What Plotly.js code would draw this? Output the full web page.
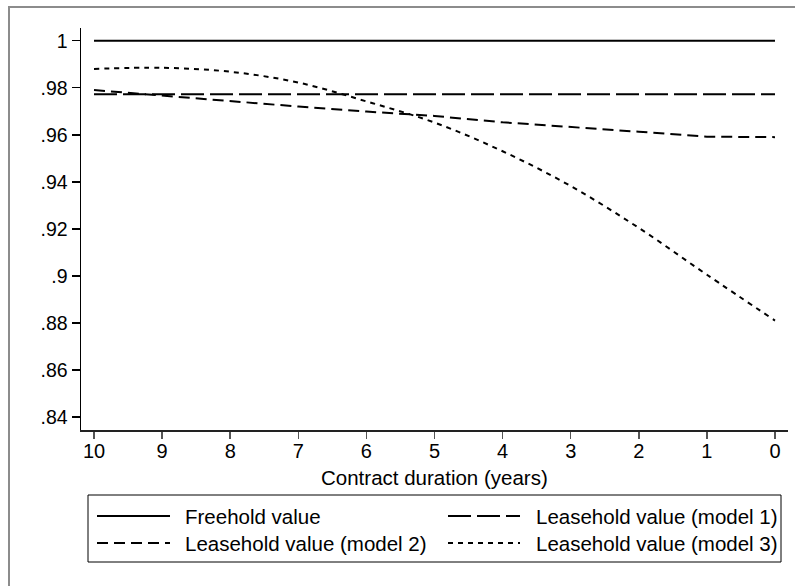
<!DOCTYPE html>
<html>
<head>
<meta charset="utf-8">
<script src="https://cdn.plot.ly/plotly-3.0.1.min.js"></script>
<style>
  html, body { margin: 0; padding: 0; background: #ffffff; }
  #chart { width: 795px; height: 586px; }
</style>
</head>
<body>
<div id="chart"></div>
<script>
// ---- data ----
var years = [10, 9, 8, 7, 6, 5, 4, 3, 2, 1, 0];
var freehold = [1, 1, 1, 1, 1, 1, 1, 1, 1, 1, 1];
var leaseModel1 = [0.9772, 0.9772, 0.9772, 0.9772, 0.9772, 0.9772, 0.9772, 0.9772, 0.9772, 0.9772, 0.9772];
var leaseModel2 = [0.9790, 0.9766, 0.9741, 0.9720, 0.9699, 0.9680, 0.9653, 0.9634, 0.9613, 0.9592, 0.9590];
var leaseModel3 = [0.9880, 0.9885, 0.9868, 0.9822, 0.9742, 0.9652, 0.9530, 0.9382, 0.9204, 0.9005, 0.8810];

var seriesNames = ["Freehold value", "Leasehold value (model 1)", "Leasehold value (model 2)", "Leasehold value (model 3)"];
var yTickVals = [0.84, 0.86, 0.88, 0.90, 0.92, 0.94, 0.96, 0.98, 1.00];
var yTickText = [".84", ".86", ".88", ".9", ".92", ".94", ".96", ".98", "1"];
var xTickVals = [10, 9, 8, 7, 6, 5, 4, 3, 2, 1, 0];
var xTitle = "Contract duration (years)";

// ---- styles ----
var FONT = "Liberation Sans, Arial, Helvetica, sans-serif";
var dashes = ["solid", "23px,6px", "11px,6px", "5px,5px"];
var W = 795, H = 586;
var M = {l: 81, r: 7, t: 28, b: 156};
var pw = W - M.l - M.r, ph = H - M.t - M.b;
function px(X) { return (X - M.l) / pw; }
function py(Y) { return (H - M.b - Y) / ph; }

var ys = [freehold, leaseModel1, leaseModel2, leaseModel3];
var traces = ys.map(function (y, i) {
  return {
    x: years, y: y, type: "scatter", mode: "lines", name: seriesNames[i],
    line: {color: "#000000", width: 2, dash: dashes[i], shape: i === 3 ? "spline" : "linear"},
    showlegend: false, hoverinfo: "x+y+name"
  };
});

// custom legend (Stata-style wide symbols)
var shapes = [
  // outer graph frame (grey)
  {type: "rect", xref: "paper", yref: "paper", x0: px(9), x1: px(820), y0: py(620), y1: py(7),
   line: {color: "#8c8c8c", width: 2}, fillcolor: "rgba(0,0,0,0)", layer: "below"},
  // legend box
  {type: "rect", xref: "paper", yref: "paper", x0: px(88), x1: px(781), y0: py(562), y1: py(495),
   line: {color: "#000000", width: 1}, fillcolor: "rgba(0,0,0,0)"}
];
var annotations = [
  // x-axis title
  {xref: "paper", yref: "paper", x: 0.5, y: py(477), xanchor: "center", yanchor: "middle",
   text: xTitle, showarrow: false, font: {family: FONT, size: 20.5, color: "#000000"}}
];
var legPos = [
  {sx0: 97, sx1: 170, tx: 183, y: 516},
  {sx0: 448, sx1: 520, tx: 534, y: 516},
  {sx0: 97, sx1: 170, tx: 183, y: 543},
  {sx0: 448, sx1: 520, tx: 534, y: 543}
];
legPos.forEach(function (p, i) {
  shapes.push({type: "line", xref: "paper", yref: "paper", x0: px(p.sx0), x1: px(p.sx1), y0: py(p.y), y1: py(p.y),
               line: {color: "#000000", width: 2, dash: dashes[i]}});
  annotations.push({xref: "paper", yref: "paper", x: px(p.tx), y: py(p.y), xanchor: "left", yanchor: "middle",
                    text: seriesNames[i], showarrow: false, font: {family: FONT, size: 20.5, color: "#000000"}});
});

var layout = {
  width: W, height: H,
  margin: M,
  paper_bgcolor: "#ffffff", plot_bgcolor: "#ffffff",
  font: {family: FONT, color: "#000000"},
  showlegend: false,
  xaxis: {
    range: [10.191, -0.191], tickvals: xTickVals, ticktext: xTickVals.map(String),
    showgrid: false, zeroline: false, showline: true, linecolor: "#222222", linewidth: 1.5,
    ticks: "outside", ticklen: 7, tickwidth: 1.5, tickcolor: "#555555",
    tickfont: {family: FONT, size: 20, color: "#000000"},
    ticklabelstandoff: -5,
    automargin: false, fixedrange: true
  },
  yaxis: {
    range: [0.83447, 1.0054], tickvals: yTickVals, ticktext: yTickText,
    showgrid: false, zeroline: false, showline: true, linecolor: "#000000", linewidth: 1.5,
    ticks: "outside", ticklen: 8, tickwidth: 1.5, tickcolor: "#000000",
    tickfont: {family: FONT, size: 19.5, color: "#000000"},
    automargin: false, fixedrange: true
  },
  shapes: shapes,
  annotations: annotations
};

Plotly.newPlot("chart", traces, layout, {staticPlot: true, displayModeBar: false});
</script>
</body>
</html>
